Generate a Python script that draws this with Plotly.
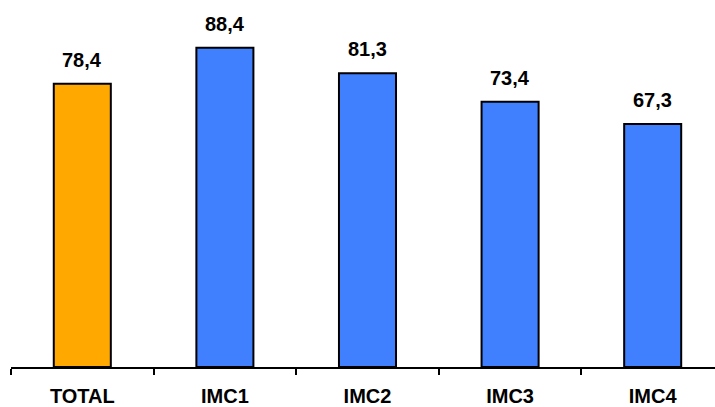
import plotly.graph_objects as go

# Category labels and values (comma as decimal separator in the labels)
categories = ["TOTAL", "IMC1", "IMC2", "IMC3", "IMC4"]
values = [78.4, 88.4, 81.3, 73.4, 67.3]
value_labels = ["78,4", "88,4", "81,3", "73,4", "67,3"]
bar_colors = ["#FFA800", "#4080FF", "#4080FF", "#4080FF", "#4080FF"]

FONT = "Liberation Sans, Arial, sans-serif"

fig = go.Figure()
fig.add_trace(go.Bar(
    x=categories,
    y=values,
    width=0.4,
    marker=dict(color=bar_colors, line=dict(color="#000000", width=2)),
    hoverinfo="skip",
))

for cat, val, lab in zip(categories, values, value_labels):
    fig.add_annotation(
        x=cat, y=val, text=f"<b>{lab}</b>",
        showarrow=False, yanchor="bottom", yshift=11,
        font=dict(family=FONT, size=20, color="#000000"),
    )

fig.update_layout(
    width=715, height=407,
    margin=dict(l=11, r=0, t=0, b=35),
    paper_bgcolor="white", plot_bgcolor="white",
    showlegend=False,
    bargap=0.6,
)
fig.update_xaxes(
    type="category",
    range=[-0.5, 4.437],
    tickson="boundaries",
    ticks="outside", ticklen=6, tickwidth=2, tickcolor="#000000",
    showline=True, linecolor="#000000", linewidth=2,
    showgrid=False, zeroline=False,
    tickfont=dict(family=FONT, size=20, color="#000000"),
    tickprefix="<b>", ticksuffix="</b>",
    ticklabelstandoff=10,
)
fig.update_yaxes(
    range=[0, 101.6],
    visible=False, showgrid=False, zeroline=False,
)

fig.write_html("out.html")
